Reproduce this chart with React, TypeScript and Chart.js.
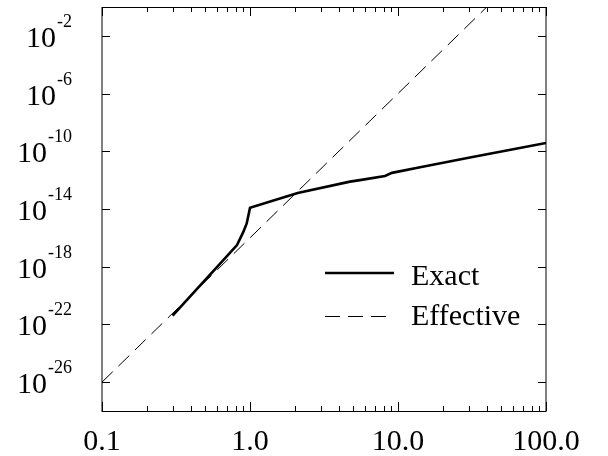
import React, { useEffect, useRef } from "react";
import { Chart, registerables } from "chart.js";

Chart.register(...registerables);

// Data (log-log)
const exactX = [0.3, 0.41, 0.6, 0.817, 0.9, 0.95, 1.0, 2.1, 4.74, 5.53, 8.17, 9.1, 14.1, 30, 60, 100];
const exactY = [4.0e-22, 1.35e-20, 9.6e-19, 3.2e-17, 2.5e-16, 1.0e-15, 1.2e-14, 1.3e-13, 7.9e-13, 1.0e-12, 1.95e-12, 3.2e-12, 7.9e-12, 3.6e-11, 1.4e-10, 3.8e-10];

const effectiveX = [0.1, 1, 10, 39.8];
const effectiveY = [1e-26, 1e-16, 1e-6, 1e0];

const seriesNames = ["Exact", "Effective"];

const xTickValues = [0.1, 1, 10, 100];
const xTickLabels = ["0.1", "1.0", "10.0", "100.0"];
const xMinorDecades = [0.1, 1, 10];
const yTickExponents = [-2, -6, -10, -14, -18, -22, -26];

const FONT = "'Liberation Serif', 'Times New Roman', serif";

const framePlugin = {
  id: "framePlugin",
  afterDraw(chart: any) {
    const ctx = chart.ctx as CanvasRenderingContext2D;
    const { left, right, top, bottom } = chart.chartArea;
    const xs = chart.scales.x;
    const ys = chart.scales.y;
    ctx.save();
    ctx.strokeStyle = "#000";
    ctx.fillStyle = "#000";
    ctx.setLineDash([]);
    // frame
    ctx.lineWidth = 1;
    ctx.beginPath();
    ctx.moveTo(left, top + 0.5);
    ctx.lineTo(right, top + 0.5);
    ctx.moveTo(left, bottom + 0.5);
    ctx.lineTo(right, bottom + 0.5);
    ctx.moveTo(left, top);
    ctx.lineTo(left, bottom + 1);
    ctx.moveTo(right, top);
    ctx.lineTo(right, bottom + 1);
    ctx.stroke();

    // x ticks (top and bottom)
    ctx.beginPath();
    xMinorDecades.forEach((d) => {
      for (let k = 1; k <= 10; k++) {
        const v = d * k;
        const px = Math.round(xs.getPixelForValue(v)) + 0.5;
        const len = k === 1 || k === 10 ? 9 : 5;
        ctx.moveTo(px, bottom);
        ctx.lineTo(px, bottom - len);
        ctx.moveTo(px, top);
        ctx.lineTo(px, top + len);
      }
    });
    // y ticks (left and right)
    yTickExponents.forEach((e) => {
      const py = Math.round(ys.getPixelForValue(Math.pow(10, e))) + 0.5;
      ctx.moveTo(left, py);
      ctx.lineTo(left + 8, py);
      ctx.moveTo(right, py);
      ctx.lineTo(right - 8, py);
    });
    ctx.stroke();

    // x labels
    ctx.font = `30px ${FONT}`;
    ctx.textAlign = "center";
    ctx.textBaseline = "alphabetic";
    xTickValues.forEach((v, i) => {
      const px = xs.getPixelForValue(v);
      ctx.fillText(xTickLabels[i], px, 450);
    });

    // y labels: 10^e
    const R = 72;
    yTickExponents.forEach((e) => {
      const py = ys.getPixelForValue(Math.pow(10, e));
      const sup = String(e);
      ctx.font = `18px ${FONT}`;
      const ws = ctx.measureText(sup).width;
      ctx.font = `30px ${FONT}`;
      const wb = ctx.measureText("10").width;
      ctx.textAlign = "left";
      const x0 = R - ws - wb - 1;
      ctx.fillText("10", x0, py + 11);
      ctx.font = `18px ${FONT}`;
      ctx.fillText(sup, x0 + wb + 1, py - 9);
    });

    // legend
    ctx.font = `30px ${FONT}`;
    ctx.textAlign = "left";
    ctx.lineWidth = 2.5;
    ctx.beginPath();
    ctx.moveTo(325, 273);
    ctx.lineTo(394, 273);
    ctx.stroke();
    ctx.fillText(seriesNames[0], 411, 285);
    ctx.lineWidth = 1;
    ctx.setLineDash([15, 8]);
    ctx.beginPath();
    ctx.moveTo(325, 316.5);
    ctx.lineTo(388, 316.5);
    ctx.stroke();
    ctx.setLineDash([]);
    ctx.fillText(seriesNames[1], 411, 325);
    ctx.restore();
  },
};

export default function App() {
  const ref = useRef<HTMLCanvasElement | null>(null);
  useEffect(() => {
    if (!ref.current) return;
    const chart = new Chart(ref.current, {
      type: "scatter",
      data: {
        datasets: [
          {
            label: seriesNames[0],
            data: exactX.map((x, i) => ({ x, y: exactY[i] })),
            showLine: true,
            borderColor: "#000",
            borderWidth: 2.6,
            pointRadius: 0,
            tension: 0,
          },
          {
            label: seriesNames[1],
            data: effectiveX.map((x, i) => ({ x, y: effectiveY[i] })),
            showLine: true,
            borderColor: "#000",
            borderWidth: 1,
            borderDash: [15, 8],
            pointRadius: 0,
            tension: 0,
          },
        ],
      },
      options: {
        animation: false,
        responsive: false,
        maintainAspectRatio: false,
        layout: { padding: { top: 7, right: 62, left: 0, bottom: 0 } },
        plugins: { legend: { display: false }, tooltip: { enabled: false } },
        scales: {
          x: {
            type: "logarithmic",
            min: 0.1,
            max: 100,
            grid: { display: false },
            border: { display: false },
            ticks: { display: false },
            afterFit: (s: any) => {
              s.height = 45;
            },
          },
          y: {
            type: "logarithmic",
            min: 1e-28,
            max: 1,
            grid: { display: false },
            border: { display: false },
            ticks: { display: false },
            afterFit: (s: any) => {
              s.width = 102;
            },
          },
        },
      } as any,
      plugins: [framePlugin],
    });
    return () => chart.destroy();
  }, []);
  return (
    <div style={{ position: "fixed", left: 0, top: 0, width: 608, height: 456, background: "#fff" }}>
      <canvas ref={ref} width={608} height={456} style={{ display: "block" }} />
    </div>
  );
}
